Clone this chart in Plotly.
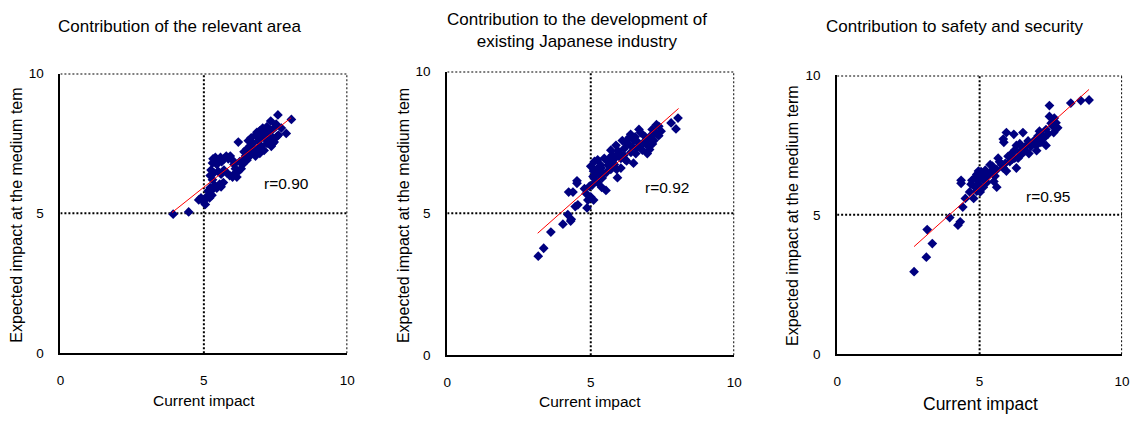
import plotly.graph_objects as go

W, H = 1140, 421
FONT = "Liberation Sans, Arial, sans-serif"

# ---- Panel 1: Contribution of the relevant area ----
cur_area = [3.93, 4.47, 4.82, 4.90, 4.98, 5.05, 5.03, 5.12, 5.20, 5.28, 5.15, 5.22, 5.30, 5.38,
            5.45, 5.55, 5.60, 5.68, 5.30, 5.22, 5.35, 5.25, 5.30, 5.32, 5.40, 5.45, 5.50, 5.58,
            5.62, 5.70, 5.78, 5.85, 5.92, 6.00, 6.05, 6.10, 5.50, 5.60, 5.70, 5.80, 5.90, 6.00,
            6.10, 6.15, 6.20, 6.30, 6.25, 6.35, 6.40, 6.45, 6.20, 6.50, 6.55, 6.60, 6.70, 6.50,
            6.60, 6.80, 6.75, 6.55, 6.65, 6.70, 6.80, 6.90, 7.00, 7.10, 7.00, 7.20, 7.30, 6.90,
            7.10, 7.20, 7.30, 7.40, 6.85, 7.15, 6.95, 7.05, 7.10, 7.20, 7.40, 7.50, 7.60, 7.45,
            7.33, 7.58, 7.52, 7.87, 8.05, 7.70, 7.40, 7.55, 7.35, 6.95, 6.40]
exp_area = [4.97, 5.05, 5.48, 5.55, 5.42, 5.32, 5.50, 5.62, 5.55, 5.65, 5.80, 5.92, 5.85, 6.00,
            5.90, 6.05, 5.95, 6.10, 6.20, 6.35, 6.45, 6.55, 6.80, 6.95, 7.00, 6.75, 6.90, 7.00,
            6.85, 6.95, 7.05, 6.95, 7.05, 6.90, 6.75, 6.60, 6.50, 6.40, 6.55, 6.45, 6.35, 6.30,
            6.45, 6.30, 6.50, 6.60, 6.85, 6.75, 6.95, 7.05, 7.55, 6.90, 7.15, 7.05, 7.20, 7.30,
            7.40, 7.05, 7.30, 7.60, 7.70, 7.50, 7.80, 7.60, 7.70, 7.90, 7.40, 7.50, 7.60, 7.35,
            7.25, 7.80, 7.95, 7.70, 7.90, 7.65, 7.95, 8.05, 8.00, 8.10, 8.00, 8.10, 7.80, 7.55,
            8.30, 8.52, 8.19, 7.86, 8.36, 8.05, 7.50, 7.75, 7.40, 7.15, 7.20]
fit_area_x = [3.89, 8.04]
fit_area_y = [5.03, 8.42]

# ---- Panel 2: Contribution to the development of existing Japanese industry ----
cur_ind = [3.17, 3.36, 3.61, 4.03, 4.20, 4.30, 4.32, 4.46, 4.55, 4.23, 4.38, 4.52, 4.52, 4.78,
           4.87, 4.90, 5.00, 5.10, 4.84, 5.10, 5.13, 5.24, 5.38, 5.53, 5.30, 5.36, 5.47, 5.59,
           5.70, 5.76, 5.88, 5.82, 5.93, 6.05, 6.05, 6.16, 6.22, 6.34, 6.39, 6.45, 6.49, 6.57,
           6.68, 6.74, 6.85, 6.80, 6.97, 7.09, 7.14, 7.20, 7.29, 7.37, 7.37, 7.80, 7.97, 8.04,
           5.70, 5.24, 5.00, 6.10, 6.50, 6.97, 7.30, 5.15, 5.05, 5.20, 5.45, 5.60, 5.65, 5.85,
           5.95, 6.15, 6.25, 6.30, 6.60, 6.65, 6.90, 7.00, 7.05, 7.25, 7.45, 5.40, 5.55, 5.75,
           6.00, 6.40, 6.70, 4.95, 5.08, 5.35, 6.55, 6.20, 7.15, 5.90]
exp_ind = [3.49, 3.77, 4.34, 4.62, 4.96, 4.73, 4.79, 5.24, 5.30, 5.75, 5.75, 6.15, 6.06, 5.87,
           5.19, 5.47, 5.58, 5.47, 5.70, 6.49, 6.83, 6.09, 5.92, 5.81, 6.38, 6.60, 6.94, 6.83,
           7.23, 7.06, 7.40, 6.72, 6.26, 6.60, 6.94, 7.28, 7.51, 7.68, 7.79, 7.34, 6.77, 7.11,
           7.96, 7.85, 7.51, 7.23, 7.40, 7.74, 7.96, 7.57, 8.13, 8.07, 7.74, 8.19, 7.98, 8.36,
           6.55, 6.89, 6.66, 7.57, 7.57, 7.11, 7.80, 6.20, 6.00, 6.55, 6.40, 6.70, 6.95, 6.95,
           7.20, 7.05, 6.85, 7.45, 7.30, 7.50, 7.70, 7.60, 7.25, 7.85, 7.90, 6.25, 6.45, 6.85,
           7.10, 7.15, 7.35, 5.95, 6.30, 6.70, 7.70, 6.90, 7.45, 6.55]
fit_ind_x = [3.15, 8.06]
fit_ind_y = [4.30, 8.70]

# ---- Panel 3: Contribution to safety and security ----
cur_safe = [2.70, 3.13, 3.16, 3.34, 3.95, 4.24, 4.32, 4.41, 4.35, 4.35, 4.50, 4.65, 4.79, 4.84,
            4.73, 4.90, 4.96, 5.08, 5.02, 5.13, 5.25, 5.37, 5.42, 5.54, 5.60, 5.65, 5.77, 5.83,
            5.94, 6.06, 6.12, 6.23, 6.29, 5.85, 5.83, 5.94, 6.20, 6.52, 6.41, 6.52, 6.64, 6.73,
            6.35, 6.29, 6.87, 6.99, 7.10, 7.05, 7.22, 7.33, 7.45, 7.45, 7.51, 7.62, 7.74, 7.57,
            8.20, 8.55, 8.84, 7.33, 5.60, 6.23, 4.70, 4.85, 4.95, 5.00, 5.10, 5.20, 5.30, 5.45,
            5.50, 5.70, 5.90, 6.00, 6.15, 6.40, 6.60, 6.80, 6.95, 7.15, 7.25, 7.40, 7.60, 5.05,
            4.90, 5.35, 6.45, 6.70, 7.00, 7.68]
exp_safe = [2.96, 3.48, 4.47, 3.97, 4.90, 4.63, 4.75, 5.28, 6.13, 6.24, 5.59, 5.82, 5.59, 5.99,
            6.24, 6.45, 6.57, 6.45, 5.82, 5.99, 6.16, 6.80, 6.57, 6.39, 5.99, 7.03, 6.80, 6.68,
            6.57, 6.91, 7.20, 7.32, 7.49, 7.60, 7.72, 7.95, 7.89, 7.95, 7.55, 7.37, 7.49, 7.20,
            7.03, 6.68, 7.60, 7.49, 8.00, 7.83, 7.83, 8.06, 8.92, 8.53, 8.29, 8.47, 8.12, 8.18,
            9.01, 9.10, 9.12, 7.49, 6.62, 7.03, 6.10, 6.35, 6.20, 6.05, 6.30, 6.60, 6.40, 6.75,
            6.20, 6.90, 6.85, 7.10, 7.00, 7.25, 7.30, 7.45, 7.70, 7.60, 7.75, 7.90, 7.95, 6.55,
            5.85, 6.50, 7.15, 7.65, 7.30, 8.30]
fit_safe_x = [2.70, 8.84]
fit_safe_y = [3.86, 9.50]

r_labels = ["r=0.90", "r=0.92", "r=0.95"]
r_pos_x = [7.87, 7.64, 7.39]
r_pos_y = [6.06, 5.92, 5.67]

titles = ["Contribution of the relevant area",
          "Contribution to the development of<br>existing Japanese industry",
          "Contribution to safety and security"]
y_titles = ["Expected impact at the medium tem",
            "Expected impact at the medium tem",
            "Expected impact at the medium term"]
x_title = "Current impact"
tick_vals = [0, 5, 10]

panels = [
    dict(x=cur_area, y=exp_area, fx=fit_area_x, fy=fit_area_y,
         box=(57, 347, 69, 359), title_xy=(177, 20), ytitle_xy=(12.5, 216), xtitle_xy=(202, 408), xt_size=15.5),
    dict(x=cur_ind, y=exp_ind, fx=fit_ind_x, fy=fit_ind_y,
         box=(448, 738, 67, 361), title_xy=(579, 24), ytitle_xy=(404, 216), xtitle_xy=(592, 409), xt_size=15.5),
    dict(x=cur_safe, y=exp_safe, fx=fit_safe_x, fy=fit_safe_y,
         box=(842, 1130, 71, 360), title_xy=(961, 20), ytitle_xy=(797, 216), xtitle_xy=(987, 412), xt_size=17.5),
]

fig = go.Figure()
annotations = []
shapes = []


def px_x(v):
    return v / W


def px_y(v):
    return 1 - v / H


for i, p in enumerate(panels):
    n = "" if i == 0 else str(i + 1)
    xa, ya = "x" + n, "y" + n
    left, right, top, bottom = p["box"]

    fig.add_trace(go.Scatter(
        x=p["x"], y=p["y"], mode="markers", xaxis=xa, yaxis=ya,
        marker=dict(symbol="diamond", size=7.5, color="#000080", line=dict(width=0)),
        showlegend=False, hoverinfo="skip"))
    fig.add_trace(go.Scatter(
        x=p["fx"], y=p["fy"], mode="lines", xaxis=xa, yaxis=ya,
        line=dict(color="#ff0000", width=1), showlegend=False, hoverinfo="skip"))

    axis_common = dict(range=[0, 10], tickvals=tick_vals, showgrid=False, zeroline=False,
                       showline=True, linecolor="black", linewidth=2, ticks="",
                       tickfont=dict(family=FONT, size=13.5, color="black"), fixedrange=True)
    fig.update_layout(**{
        ("xaxis" + n): dict(axis_common, domain=[px_x(left), px_x(right)], anchor=ya,
                            ticklabelstandoff=14),
        ("yaxis" + n): dict(axis_common, domain=[px_y(bottom), px_y(top)], anchor=xa,
                            ticklabelstandoff=12),
    })

    # dotted frame on the top and right, and the midpoint reference lines
    dot = dict(color="black", width=2, dash="2px,2px")
    for x0, y0, x1, y1 in [(0, 10, 10, 10), (10, 0, 10, 10), (5, 0, 5, 10), (0, 5, 10, 5)]:
        shapes.append(dict(type="line", xref=xa, yref=ya, x0=x0, y0=y0, x1=x1, y1=y1,
                           line=dot, layer="below"))

    annotations.append(dict(text=r_labels[i], x=r_pos_x[i], y=r_pos_y[i], xref=xa, yref=ya,
                            showarrow=False, font=dict(family=FONT, size=15.5, color="black"),
                            xanchor="center", yanchor="middle"))
    tx, ty = p["title_xy"]
    annotations.append(dict(text=titles[i], x=px_x(tx), y=px_y(ty), xref="paper", yref="paper",
                            showarrow=False, font=dict(family=FONT, size=17, color="black"),
                            xanchor="center", yanchor="middle"))
    yx, yy = p["ytitle_xy"]
    annotations.append(dict(text=y_titles[i], x=px_x(yx), y=px_y(yy), xref="paper", yref="paper",
                            showarrow=False, textangle=-90,
                            font=dict(family=FONT, size=16, color="black"),
                            xanchor="center", yanchor="middle"))
    xx, xy = p["xtitle_xy"]
    annotations.append(dict(text=x_title, x=px_x(xx), y=px_y(xy), xref="paper", yref="paper",
                            showarrow=False, font=dict(family=FONT, size=p["xt_size"], color="black"),
                            xanchor="center", yanchor="middle"))

fig.update_layout(width=W, height=H, margin=dict(l=0, r=0, t=0, b=0),
                  paper_bgcolor="white", plot_bgcolor="white",
                  annotations=annotations, shapes=shapes)

fig.write_html("out.html", config={"displayModeBar": False})
